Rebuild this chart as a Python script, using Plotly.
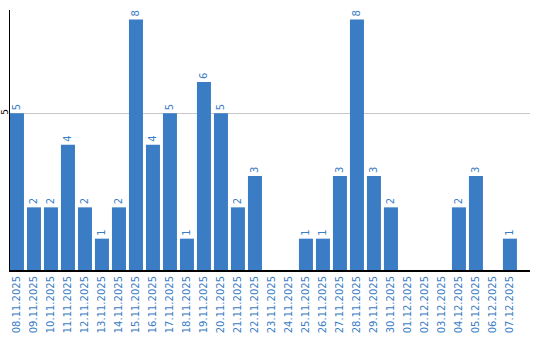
import plotly.graph_objects as go

dates = ["08.11.2025", "09.11.2025", "10.11.2025", "11.11.2025", "12.11.2025",
         "13.11.2025", "14.11.2025", "15.11.2025", "16.11.2025", "17.11.2025",
         "18.11.2025", "19.11.2025", "20.11.2025", "21.11.2025", "22.11.2025",
         "23.11.2025", "24.11.2025", "25.11.2025", "26.11.2025", "27.11.2025",
         "28.11.2025", "29.11.2025", "30.11.2025", "01.12.2025", "02.12.2025",
         "03.12.2025", "04.12.2025", "05.12.2025", "06.12.2025", "07.12.2025"]
values = [5, 2, 2, 4, 2, 1, 2, 8, 4, 5, 1, 6, 5, 2, 3, 0, 0, 1, 1, 3,
          8, 3, 2, 0, 0, 0, 2, 3, 0, 1]
y_ticks = [5]

blue = "#3a7dc4"
labels = [str(v) if v else "" for v in values]

fig = go.Figure(go.Bar(
    x=dates, y=values, text=labels, textposition="outside", textangle=-90,
    textfont=dict(family="DejaVu Sans", size=10, color=blue),
    marker=dict(color=blue, line=dict(width=0)), cliponaxis=False,
))
fig.update_layout(
    width=540, height=340, margin=dict(l=10, r=10, t=10, b=70),
    paper_bgcolor="white", plot_bgcolor="white", bargap=0.176,
    showlegend=False, font=dict(family="DejaVu Sans", size=10),
    uniformtext=dict(minsize=10, mode="show"),
)
fig.update_xaxes(
    type="category", range=[-0.41, 30.18], tickangle=-90, automargin=False,
    tickfont=dict(color=blue, size=10), showline=True, linecolor="black",
    linewidth=2, ticks="", showgrid=False, fixedrange=True,
)
fig.update_yaxes(
    range=[0, 8.3], tickvals=y_ticks, ticktext=[str(t) for t in y_ticks],
    tickangle=-90, tickfont=dict(color="black", size=9), showline=True,
    linecolor="black", linewidth=1, showgrid=True, gridcolor="#c8c8c8",
    zeroline=False, ticks="", ticklen=0, fixedrange=True, automargin=False,
    ticklabelstandoff=-3,
)
fig.write_html("out.html", config={"displayModeBar": False})
